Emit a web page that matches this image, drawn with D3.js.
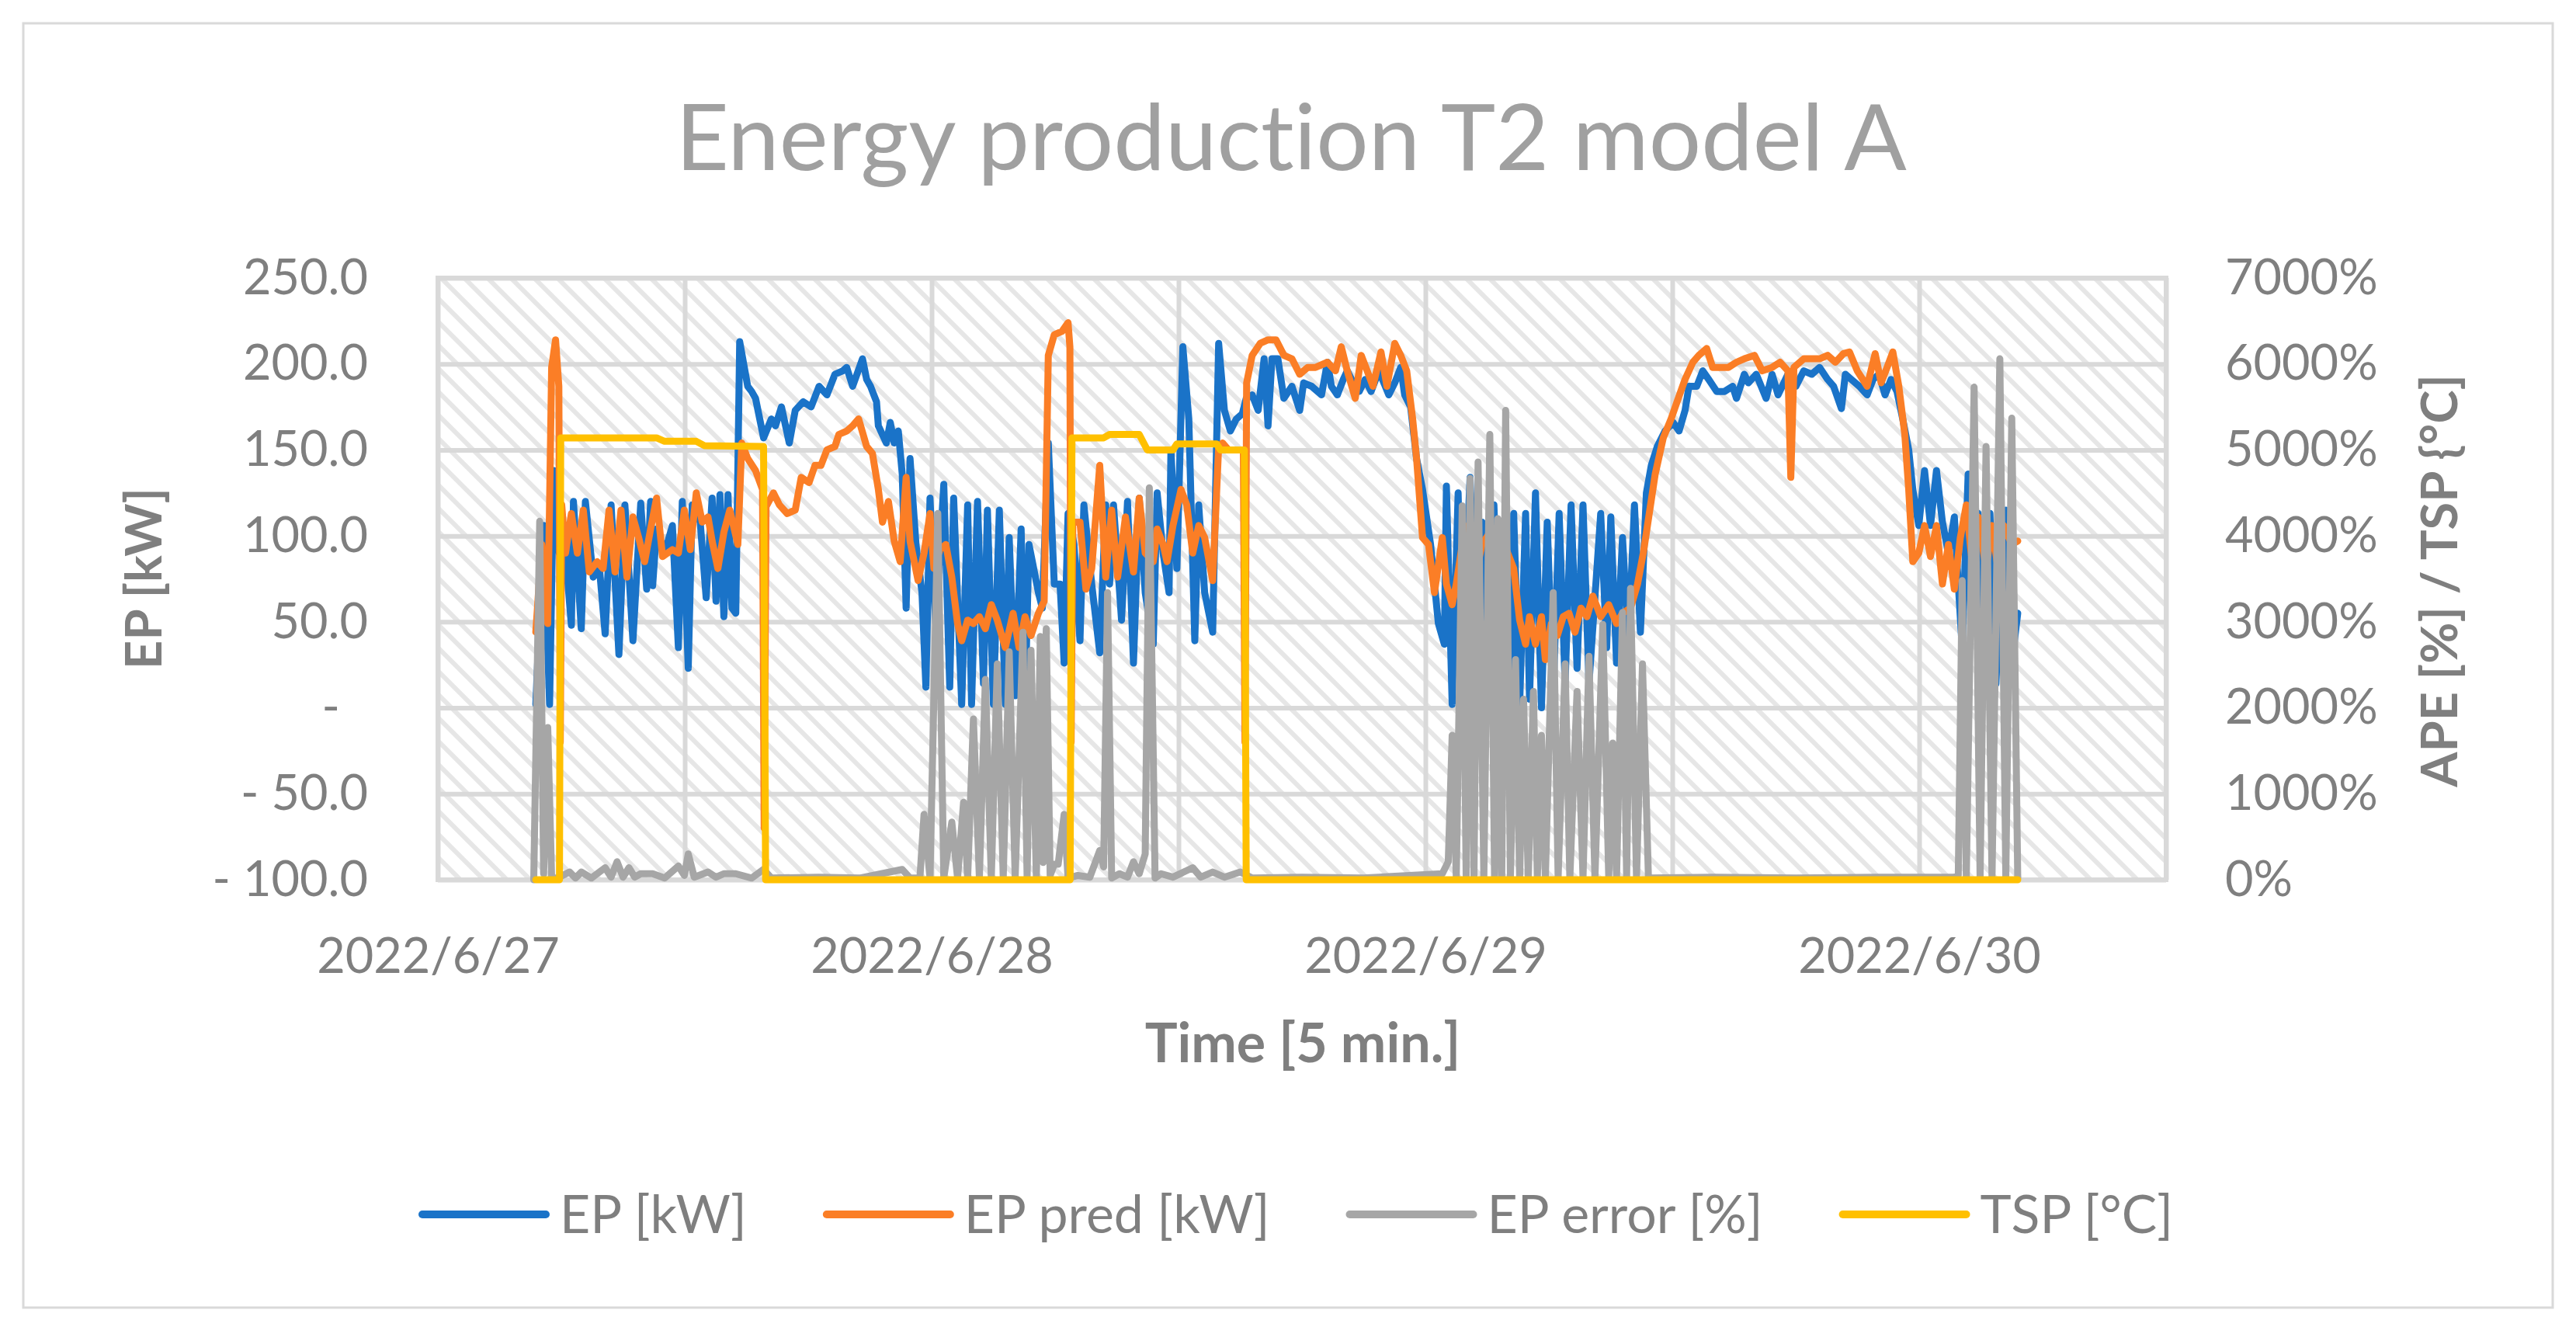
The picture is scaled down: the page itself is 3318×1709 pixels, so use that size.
<!DOCTYPE html>
<html>
<head>
<meta charset="utf-8">
<script src="https://cdn.jsdelivr.net/npm/d3@7"></script>
<style>
  body { margin: 0; background: #fff; }
  svg { display: block; }
  text { font-family: Lato, "Open Sans", sans-serif; font-variant-ligatures: none; }
</style>
</head>
<body>
<svg id="chart" width="3318" height="1709"></svg>
<script>
// values: [hours after 2022-06-27 00:00, value]
const epData = [[4.76,2],[5.14,106],[5.43,2],[5.63,138],[5.9,90],[6.2,90],[6.49,48],[6.59,120],[6.97,46],[7.17,120],[7.55,76],[7.84,83],[8.13,43],[8.42,118],[8.8,31],[9.09,118],[9.48,39],[9.86,119],[10.15,69],[10.34,120],[10.44,71],[10.63,104],[11.02,90],[11.4,106],[11.69,35],[11.88,120],[12.17,23],[12.36,118],[12.75,108],[13.04,64],[13.33,122],[13.52,62],[13.71,124],[13.9,53],[14.1,124],[14.29,58],[14.48,55],[14.67,213],[15.06,187],[15.25,184],[15.44,180],[15.83,157],[16.21,168],[16.41,164],[16.7,175],[17.08,154],[17.37,173],[17.76,178],[18.14,175],[18.53,187],[18.91,182],[19.3,194],[19.68,196],[19.87,198],[20.16,187],[20.64,203],[20.84,191],[21.03,187],[21.32,178],[21.41,164],[21.8,154],[21.99,166],[22.18,154],[22.38,161],[22.57,136],[22.76,58],[22.95,145],[23.24,95],[23.53,67],[23.72,12],[23.92,122],[24.2,49],[24.59,130],[24.88,12],[25.07,122],[25.46,2],[25.75,118],[25.94,2],[26.23,120],[26.52,14],[26.71,115],[27.0,2],[27.29,115],[27.58,2],[27.77,99],[28.06,7],[28.35,104],[28.54,2],[28.73,95],[29.19,67],[29.38,58],[29.67,154],[29.96,72],[30.24,72],[30.44,26],[30.63,113],[30.92,95],[31.21,39],[31.4,118],[31.78,72],[32.17,32],[32.46,118],[32.65,72],[32.84,118],[33.23,51],[33.52,120],[33.81,26],[34.09,122],[34.38,67],[34.77,37],[34.96,125],[35.25,90],[35.54,67],[35.63,150],[35.92,81],[36.21,210],[36.5,168],[36.79,39],[36.98,118],[37.27,67],[37.66,44],[37.95,212],[38.23,173],[38.52,161],[38.81,168],[39.1,171],[39.29,180],[39.58,182],[39.87,173],[40.16,203],[40.35,164],[40.54,203],[40.83,203],[41.12,180],[41.51,187],[41.89,173],[42.08,189],[42.47,187],[42.95,182],[43.24,201],[43.43,187],[43.72,182],[44.01,191],[44.2,196],[44.49,189],[44.78,184],[45.07,191],[45.36,184],[45.74,196],[46.22,182],[46.51,189],[46.8,198],[46.99,182],[47.28,175],[47.57,145],[47.86,127],[48.25,95],[48.63,49],[48.92,37],[49.02,129],[49.3,2],[49.59,125],[49.79,26],[50.17,134],[50.46,37],[50.75,108],[51.04,26],[51.33,118],[51.61,21],[51.9,95],[52.19,5],[52.29,113],[52.58,2],[52.87,113],[53.06,5],[53.35,125],[53.64,0],[53.92,108],[54.21,7],[54.5,113],[54.79,14],[55.08,118],[55.37,23],[55.66,118],[55.95,14],[56.52,113],[56.81,35],[57.01,111],[57.29,26],[57.58,99],[57.87,37],[58.16,118],[58.45,44],[58.74,125],[58.98,141],[59.27,152],[59.65,161],[60.04,166],[60.33,161],[60.62,173],[60.81,187],[61.19,187],[61.48,196],[61.77,191],[62.16,184],[62.54,184],[62.93,187],[63.12,180],[63.5,194],[63.7,189],[64.08,194],[64.56,180],[64.85,194],[65.14,182],[65.62,194],[66.01,187],[66.39,196],[66.78,194],[67.16,198],[67.55,191],[67.84,187],[68.22,174],[68.41,194],[68.7,191],[69.09,187],[69.47,182],[69.76,191],[70.05,194],[70.34,182],[70.63,191],[70.92,184],[71.2,168],[71.49,150],[71.69,127],[71.98,106],[72.26,138],[72.55,106],[72.84,138],[73.13,108],[73.42,90],[73.71,111],[73.9,72],[74.09,35],[74.38,136],[74.57,49],[74.86,113],[75.15,26],[75.44,113],[75.73,14],[76.02,95],[76.21,115],[76.5,26],[76.79,55]];

const predData = [[4.76,44],[5.05,95],[5.34,49],[5.53,198],[5.72,214],[5.88,187],[5.95,-20],[6.02,118],[6.2,90],[6.49,113],[6.78,90],[7.07,115],[7.36,79],[7.74,85],[8.03,81],[8.32,115],[8.61,79],[8.9,115],[9.19,76],[9.48,111],[9.76,99],[10.05,85],[10.34,104],[10.63,122],[10.92,88],[11.4,92],[11.69,90],[11.98,115],[12.27,92],[12.56,125],[12.85,108],[13.13,111],[13.33,97],[13.61,81],[13.9,102],[14.19,115],[14.58,95],[14.77,154],[15.06,145],[15.44,138],[15.78,127],[15.86,-70],[15.95,117],[16.31,125],[16.6,118],[16.98,113],[17.37,115],[17.66,134],[18.04,131],[18.33,141],[18.62,141],[18.91,150],[19.3,152],[19.49,159],[19.87,161],[20.16,164],[20.45,168],[20.84,152],[21.12,148],[21.41,127],[21.61,108],[21.9,120],[22.18,97],[22.47,85],[22.76,134],[22.95,97],[23.34,74],[23.63,90],[23.92,113],[24.11,81],[24.4,92],[24.69,95],[24.98,76],[25.26,49],[25.46,39],[25.75,51],[26.03,49],[26.32,53],[26.61,46],[26.9,60],[27.19,51],[27.58,35],[27.96,55],[28.25,35],[28.54,53],[28.83,42],[29.19,55],[29.47,62],[29.67,205],[29.96,217],[30.34,219],[30.63,224],[30.72,210],[30.78,-20],[30.86,108],[31.21,108],[31.5,69],[31.78,81],[32.17,141],[32.46,76],[32.75,115],[33.04,76],[33.42,111],[33.81,79],[34.09,122],[34.38,90],[34.77,85],[34.96,104],[35.25,95],[35.44,85],[35.73,106],[36.12,127],[36.4,118],[36.69,90],[36.98,106],[37.27,99],[37.66,74],[37.95,152],[38.14,154],[38.43,150],[39.15,150],[39.23,-20],[39.31,189],[39.58,205],[39.97,212],[40.35,214],[40.74,214],[41.12,205],[41.51,203],[41.89,194],[42.28,198],[42.66,198],[43.24,201],[43.63,196],[43.91,210],[44.2,196],[44.59,180],[44.88,205],[45.17,196],[45.45,187],[45.84,207],[46.13,187],[46.51,212],[46.8,205],[47.09,196],[47.38,168],[47.57,145],[47.86,99],[48.15,95],[48.44,67],[48.82,99],[49.02,72],[49.3,60],[49.5,72],[49.79,95],[50.07,106],[50.36,72],[50.75,95],[51.13,102],[51.42,95],[51.71,99],[52.0,90],[52.29,81],[52.58,51],[52.87,37],[53.06,53],[53.35,37],[53.64,53],[53.83,28],[54.12,49],[54.41,42],[54.7,53],[54.98,55],[55.27,44],[55.56,58],[55.85,53],[56.14,65],[56.52,53],[56.91,60],[57.29,49],[57.58,55],[57.97,58],[58.31,72],[58.59,90],[58.88,113],[59.17,136],[59.56,157],[59.94,168],[60.23,178],[60.62,191],[61.0,201],[61.29,205],[61.67,209],[61.96,198],[62.35,198],[62.73,198],[63.12,201],[63.5,203],[63.99,205],[64.37,196],[64.85,198],[65.24,201],[65.62,196],[65.76,134],[65.91,198],[66.39,203],[66.78,203],[67.16,203],[67.55,205],[67.93,201],[68.32,206],[68.61,207],[68.99,196],[69.47,187],[69.86,206],[70.15,189],[70.44,198],[70.72,207],[71.01,187],[71.3,159],[71.49,127],[71.69,85],[71.98,90],[72.26,106],[72.55,88],[72.84,106],[73.13,72],[73.42,95],[73.71,69],[74.0,99],[74.29,118],[74.57,85],[74.86,111],[75.25,81],[75.54,106],[75.83,81],[76.11,106],[76.5,95],[76.79,97]];

// error in raw units (1 = 100 %)
const errData = [[4.66,0],[4.95,41.7],[5.14,0.7],[5.34,17.7],[5.53,0.2],[5.82,0.2],[6.4,0.9],[6.69,0.2],[6.98,0.9],[7.46,0.2],[8.13,1.4],[8.42,0.3],[8.71,2.1],[9.0,0.3],[9.29,1.4],[9.57,0.3],[9.86,0.7],[10.44,0.7],[11.02,0.2],[11.69,1.6],[11.98,0.5],[12.17,3.0],[12.46,0.3],[13.13,0.9],[13.52,0.3],[13.9,0.7],[14.48,0.7],[15.25,0.2],[15.83,1.2],[16.21,0.2],[18.5,0.3],[20.5,0.2],[22.57,1.2],[22.95,0.2],[23.43,0.2],[23.63,7.6],[23.92,0.2],[24.3,42.6],[24.59,0.2],[24.98,6.7],[25.26,0.2],[25.55,9.0],[25.75,0.2],[26.03,18.7],[26.32,0.2],[26.61,23.3],[26.9,0.2],[27.19,25.1],[27.48,0.2],[27.77,26.5],[28.06,0.2],[28.44,28.8],[28.64,0.2],[28.83,26.7],[29.09,0.2],[29.28,28.3],[29.42,2],[29.57,29.2],[29.76,0.5],[29.96,1.8],[30.15,1.8],[30.44,7.6],[30.63,0.2],[31.11,0.5],[31.69,0.3],[32.17,3.4],[32.36,1.5],[32.55,33.4],[32.75,0.2],[33.13,0.7],[33.52,0.3],[33.81,2.1],[34.09,0.7],[34.38,3],[34.58,45.6],[34.86,0.2],[35.15,0.7],[35.73,0.3],[36.69,1.4],[37.08,0.3],[37.66,0.9],[38.23,0.3],[39.0,0.9],[39.58,0.2],[42,0.3],[45,0.2],[48.82,0.7],[49.11,2.1],[49.3,16.8],[49.5,0.2],[49.79,43.5],[49.98,0.2],[50.17,46.7],[50.36,0.2],[50.56,48.6],[50.84,0.2],[51.13,51.8],[51.36,0.2],[51.52,42],[51.71,0.2],[51.9,54.6],[52.13,0.2],[52.38,25.6],[52.58,0.2],[52.77,21.0],[53.0,0.2],[53.25,21.9],[53.44,0.2],[53.64,16.8],[53.83,0.2],[54.21,33.4],[54.45,0.2],[54.79,25.1],[55.02,0.2],[55.37,21.9],[55.66,0.2],[55.95,26.0],[56.24,0.2],[56.62,29.7],[56.91,0.2],[57.1,15.9],[57.29,0.2],[57.58,31.1],[57.78,0.2],[57.97,33.9],[58.26,0.2],[58.55,25.1],[58.84,0.2],[62,0.3],[66,0.2],[70,0.3],[73.71,0.3],[73.9,0.5],[74.09,34.8],[74.29,0.2],[74.67,57.3],[74.96,0.2],[75.25,50.4],[75.54,0.2],[75.92,60.6],[76.21,0.2],[76.5,53.7],[76.79,0.2]];

const tspData = [[4.76,0],[5.91,0],[5.97,51.4],[10.63,51.4],[11.02,51.0],[12.56,51.0],[12.95,50.5],[15.83,50.4],[15.93,0],[30.73,0],[30.82,51.4],[32.36,51.4],[32.65,51.8],[34.09,51.8],[34.48,50.0],[35.73,50.0],[35.92,50.7],[37.85,50.7],[38.04,50.0],[39.2,50.0],[39.29,0],[76.79,0]];

const leftTicks = [-100, -50, 0, 50, 100, 150, 200, 250];
const rightTicks = [0, 10, 20, 30, 40, 50, 60, 70];
const dayTicks = ["2022-06-27", "2022-06-28", "2022-06-29", "2022-06-30"];
const seriesNames = ["EP [kW]", "EP pred [kW]", "EP error [%]", "TSP [°C]"];
const seriesColors = ["#1a73c8", "#fb7e26", "#a6a6a6", "#ffc000"];

(function () {
    const svg = d3.select("#chart");
    const t0 = new Date(2022, 5, 27), t1 = new Date(2022, 5, 30, 12);
    const toDate = h => new Date(+t0 + h * 3600e3);
    const pLeft = 564, pRight = 2790, pTop = 358, pBottom = 1133;

    const x = d3.scaleTime().domain([t0, t1]).range([pLeft, pRight]);
    const yL = d3.scaleLinear().domain([-100, 250]).range([pBottom, pTop]);
    const yR = d3.scaleLinear().domain([0, 70]).range([pBottom, pTop]);

    const grid = "#d9d9d9", textGrey = "#7f7f7f";

    svg.append("rect").attr("width", 3318).attr("height", 1709).attr("fill", "#fff");
    svg.append("rect")
        .attr("x", 30).attr("y", 30).attr("width", 3258).attr("height", 1654)
        .attr("fill", "none").attr("stroke", grid).attr("stroke-width", 3);

    // downward diagonal hatch of the plot area
    const defs = svg.append("defs");
    defs.append("pattern")
        .attr("id", "hatch").attr("patternUnits", "userSpaceOnUse")
        .attr("width", 30).attr("height", 30)
      .append("path")
        .attr("d", "M0,0L30,30M-15,15L15,45M15,-15L45,15")
        .attr("stroke", "#e6e6e6").attr("stroke-width", 6);

    svg.append("rect")
        .attr("x", pLeft).attr("y", pTop).attr("width", pRight - pLeft).attr("height", pBottom - pTop)
        .attr("fill", "url(#hatch)");

    // gridlines
    svg.append("g").attr("transform", `translate(${pLeft},0)`)
        .call(d3.axisLeft(yL).tickValues(leftTicks).tickSize(-(pRight - pLeft)).tickFormat(""))
        .call(g => g.select(".domain").remove())
        .selectAll("line").attr("stroke", grid).attr("stroke-width", 6);

    svg.append("g").attr("transform", `translate(0,${pBottom})`)
        .call(d3.axisBottom(x).ticks(d3.timeHour.every(12)).tickSize(-(pBottom - pTop)).tickFormat(""))
        .call(g => g.select(".domain").remove())
        .selectAll("line").attr("stroke", grid).attr("stroke-width", 6);

    svg.append("rect")
        .attr("x", pLeft).attr("y", pTop).attr("width", pRight - pLeft).attr("height", pBottom - pTop)
        .attr("fill", "none").attr("stroke", grid).attr("stroke-width", 6);

    // axis labels
    const fmtLeft = v => v < 0 ? "- " + d3.format(".1f")(-v) : v === 0 ? "-" : d3.format(".1f")(v);

    svg.append("g").attr("transform", `translate(${pLeft},0)`)
        .call(d3.axisLeft(yL).tickValues(leftTicks).tickSize(0).tickPadding(90).tickFormat(fmtLeft))
        .call(g => g.select(".domain").remove())
        .call(g => g.selectAll("text").filter(d => d === 0).attr("dx", -36))
        .selectAll("text").attr("font-size", 63).attr("fill", textGrey).attr("font-family", "Lato");

    svg.append("g").attr("transform", `translate(${pRight},0)`)
        .call(d3.axisRight(yR).tickValues(rightTicks).tickSize(0).tickPadding(76).tickFormat(d => d * 100 + "%"))
        .call(g => g.select(".domain").remove())
        .selectAll("text").attr("font-size", 63).attr("fill", textGrey).attr("font-family", "Lato");

    svg.append("g").attr("transform", `translate(0,${pBottom})`)
        .call(d3.axisBottom(x).tickValues(dayTicks.map(d => d3.timeParse("%Y-%m-%d")(d)))
            .tickSize(0).tickPadding(75).tickFormat(d3.timeFormat("%Y/%-m/%-d")))
        .call(g => g.select(".domain").remove())
        .selectAll("text").attr("font-size", 63).attr("fill", textGrey).attr("font-family", "Lato");

    // series: primary axis first, secondary axis drawn over it
    const lineL = d3.line().x(d => x(toDate(d[0]))).y(d => yL(d[1]));
    const lineR = d3.line().x(d => x(toDate(d[0]))).y(d => yR(d[1]));
    const series = [
        {data: epData, line: lineL},
        {data: predData, line: lineL},
        {data: errData, line: lineR},
        {data: tspData, line: lineR}
    ];
    series.forEach((s, i) => {
        svg.append("path")
            .attr("d", s.line(s.data))
            .attr("fill", "none")
            .attr("stroke", seriesColors[i])
            .attr("stroke-width", 9)
            .attr("stroke-linejoin", "round")
            .attr("stroke-linecap", "round");
    });

    // titles
    svg.append("text")
        .attr("x", 1663).attr("y", 219).attr("text-anchor", "middle")
        .attr("font-size", 119).attr("fill", "#a0a0a0")
        .text("Energy production T2 model A");

    svg.append("text")
        .attr("transform", "translate(208,745) rotate(-90)").attr("text-anchor", "middle")
        .attr("font-size", 65).attr("font-weight", "bold").attr("fill", textGrey)
        .text("EP [kW]");

    svg.append("text")
        .attr("transform", "translate(3165,748) rotate(-90)").attr("text-anchor", "middle")
        .attr("font-size", 65).attr("font-weight", "bold").attr("fill", textGrey)
        .text("APE [%] / TSP {°C]");

    svg.append("text")
        .attr("x", 1678).attr("y", 1368).attr("text-anchor", "middle")
        .attr("font-size", 70).attr("font-weight", "bold").attr("fill", textGrey)
        .text("Time [5 min.]");

    // legend, laid out left to right then centred
    const gap = 98;
    const legend = svg.append("g");
    let cx = 0;
    seriesNames.forEach((name, i) => {
        legend.append("line")
            .attr("x1", cx + 5).attr("x2", cx + 164).attr("y1", 0).attr("y2", 0)
            .attr("stroke", seriesColors[i]).attr("stroke-width", 10).attr("stroke-linecap", "round");
        const t = legend.append("text")
            .attr("x", cx + 182).attr("y", 0).attr("dy", "0.35em")
            .attr("font-size", 68).attr("fill", textGrey)
            .text(name);
        cx += 182 + t.node().getComputedTextLength() + gap;
    });
    const lw = cx - gap;
    legend.attr("transform", `translate(${1669 - lw / 2},1564)`);
})();
</script>
</body>
</html>
